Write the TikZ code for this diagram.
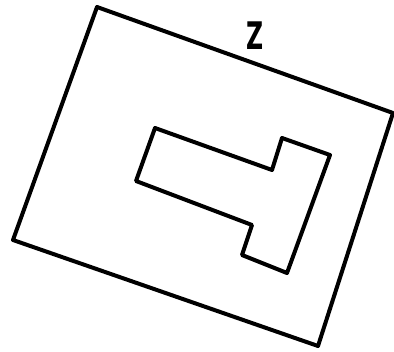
\documentclass[tikz,border=0pt]{standalone}
\usepackage{fontspec}
\setmainfont{DejaVu Sans}
\begin{document}
\begin{tikzpicture}[x=1pt,y=-1pt,
  outline/.style={line width=4pt, line join=round, draw=black},
  lbl/.style={font=\bfseries\fontsize{38}{38}\selectfont, inner sep=0pt, xscale=0.62}]
\useasboundingbox (0,0) rectangle (394,352);
\draw[outline] (97,7) -- (393,113) -- (318,346) -- (13,240) -- cycle;
\draw[outline] (155,128) -- (272,170) -- (282,138) -- (330,155) -- (287,273) -- (242,255) -- (252,225) -- (136,181) -- cycle;
\node[lbl] (z) at (255.5,36) {Z};
\end{tikzpicture}
\end{document}
